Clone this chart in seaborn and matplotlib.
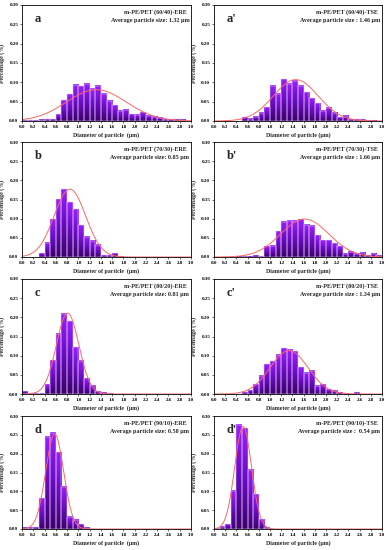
import numpy as np
import pandas as pd
import matplotlib
matplotlib.use("Agg")
import matplotlib.pyplot as plt
import seaborn as sns
from matplotlib.colors import LinearSegmentedColormap

sns.set_theme(style="ticks")
plt.rcParams['font.family'] = ['Liberation Serif', 'DejaVu Serif']
plt.rcParams['font.weight'] = 'bold'

# bin centres (μm), bin width 0.1
diameters = [0.05, 0.15, 0.25, 0.35, 0.45, 0.55, 0.65, 0.75, 0.85, 0.95,
             1.05, 1.15, 1.25, 1.35, 1.45, 1.55, 1.65, 1.75, 1.85, 1.95,
             2.05, 2.15, 2.25, 2.35, 2.45, 2.55, 2.65, 2.75, 2.85, 2.95]
bin_edges = [0.0, 0.1, 0.2, 0.3, 0.4, 0.5, 0.6, 0.7, 0.8, 0.9, 1.0,
             1.1, 1.2, 1.3, 1.4, 1.5, 1.6, 1.7, 1.8, 1.9, 2.0,
             2.1, 2.2, 2.3, 2.4, 2.5, 2.6, 2.7, 2.8, 2.9, 3.0]

pct_a = [0.002, 0.002, 0.002, 0.003, 0.004, 0.004, 0.018, 0.054, 0.069, 0.094,
         0.090, 0.096, 0.084, 0.091, 0.071, 0.052, 0.041, 0.026, 0.029, 0.017,
         0.016, 0.022, 0.014, 0.011, 0.008, 0.005, 0.004, 0.004, 0.003, 0.0]
pct_a2 = [0.0, 0.0, 0.0, 0.0, 0.0, 0.010, 0.006, 0.011, 0.021, 0.035,
          0.091, 0.070, 0.108, 0.096, 0.104, 0.091, 0.075, 0.059, 0.046, 0.026,
          0.034, 0.021, 0.010, 0.013, 0.004, 0.004, 0.004, 0.002, 0.001, 0.0]
pct_b = [0.0, 0.0, 0.0, 0.010, 0.037, 0.098, 0.151, 0.177, 0.143, 0.125,
         0.083, 0.053, 0.043, 0.032, 0.004, 0.004, 0.010, 0.002, 0.0, 0.0,
         0.0, 0.0, 0.0, 0.0, 0.0, 0.0, 0.0, 0.0, 0.0, 0.0]
pct_b2 = [0.0, 0.0, 0.0, 0.0, 0.001, 0.002, 0.001, 0.004, 0.002, 0.028,
          0.030, 0.067, 0.092, 0.094, 0.094, 0.098, 0.084, 0.081, 0.057, 0.044,
          0.044, 0.036, 0.028, 0.009, 0.014, 0.009, 0.011, 0.004, 0.009, 0.004]
pct_c = [0.007, 0.002, 0.002, 0.002, 0.026, 0.088, 0.157, 0.210, 0.190, 0.122,
         0.087, 0.041, 0.023, 0.007, 0.005, 0.002, 0.0, 0.0, 0.0, 0.0,
         0.0, 0.0, 0.0, 0.0, 0.0, 0.0, 0.0, 0.0, 0.0, 0.0]
pct_c2 = [0.0, 0.0, 0.0, 0.0, 0.0, 0.005, 0.010, 0.026, 0.048, 0.078,
          0.086, 0.103, 0.120, 0.116, 0.111, 0.070, 0.056, 0.061, 0.021, 0.026,
          0.012, 0.010, 0.005, 0.002, 0.0, 0.004, 0.0, 0.0, 0.0, 0.0]
pct_d = [0.003, 0.003, 0.004, 0.081, 0.245, 0.256, 0.204, 0.112, 0.033, 0.024,
         0.013, 0.003, 0.0, 0.0, 0.0, 0.0, 0.0, 0.0, 0.0, 0.0,
         0.0, 0.0, 0.0, 0.0, 0.0, 0.0, 0.0, 0.0, 0.0, 0.0]
pct_d2 = [0.002, 0.006, 0.013, 0.101, 0.277, 0.267, 0.157, 0.092, 0.026, 0.003,
          0.0, 0.0, 0.0, 0.0, 0.0, 0.0, 0.0, 0.0, 0.0, 0.0,
          0.0, 0.0, 0.0, 0.0, 0.0, 0.0, 0.0, 0.0, 0.0, 0.0]

# Gaussian fit parameters: (mean, sigma, peak)
fit_a = (1.32, 0.53, 0.081)
fit_a2 = (1.46, 0.40, 0.107)
fit_b = (0.85, 0.28, 0.177)
fit_b2 = (1.62, 0.43, 0.099)
fit_c = (0.81, 0.20, 0.211)
fit_c2 = (1.34, 0.34, 0.113)
fit_d = (0.58, 0.16, 0.252)
fit_d2 = (0.52, 0.15, 0.272)

letters = ["a", "a'", "b", "b'", "c", "c'", "d", "d'"]
samples = ["m-PE/PET (60/40)-ERE", "m-PE/PET (60/40)-TSE",
           "m-PE/PET (70/30)-ERE", "m-PE/PET (70/30)-TSE",
           "m-PE/PET (80/20)-ERE", "m-PE/PET (80/20)-TSE",
           "m-PE/PET (90/10)-ERE", "m-PE/PET (90/10)-TSE"]
avg_labels = ["Average particle size: 1.32 \u03bcm", "Average particle size : 1.46 \u03bcm",
              "Average particle size: 0.85 \u03bcm", "Average particle size : 1.66 \u03bcm",
              "Average particle size: 0.81 \u03bcm", "Average particle size : 1.34 \u03bcm",
              "Average particle size: 0.58 \u03bcm", "Average particle size :  0.54 \u03bcm"]
xlabels = ["Diameter of particle  (\u03bcm)", "Diameter of particle (\u03bcm)"] * 4
x_ticks = [0.0, 0.2, 0.4, 0.6, 0.8, 1.0, 1.2, 1.4, 1.6, 1.8, 2.0, 2.2, 2.4, 2.6, 2.8, 3.0]
y_ticks = [0.00, 0.05, 0.10, 0.15, 0.20, 0.25, 0.30]

all_pct = [pct_a, pct_a2, pct_b, pct_b2, pct_c, pct_c2, pct_d, pct_d2]
all_fit = [fit_a, fit_a2, fit_b, fit_b2, fit_c, fit_c2, fit_d, fit_d2]

W, H = 387, 550
fig = plt.figure(figsize=(W / 100, H / 100), dpi=100)
fig.patch.set_facecolor("white")

col_left = [22, 214]
col_width = [169, 168]
row_top = [5, 142, 279, 416]
row_h = [116, 115, 115, 113]

cmap = LinearSegmentedColormap.from_list("purp", ["#3E006E", "#6A0BC0", "#9A1FFF"])
grad = np.linspace(0, 1, 64).reshape(-1, 1)

for i in range(8):
    r, c = divmod(i, 2)
    l = col_left[c] / W
    b = 1 - (row_top[r] + row_h[r]) / H
    ax = fig.add_axes([l, b, col_width[c] / W, row_h[r] / H])
    df = pd.DataFrame({"d": diameters, "p": all_pct[i]})
    sns.histplot(data=df, x="d", weights="p", bins=bin_edges, ax=ax,
                 stat="count", edgecolor="#EBD8FF", linewidth=0.35, alpha=1)
    for p in list(ax.patches):
        h = p.get_height()
        if h <= 0:
            p.remove()
            continue
        x0, w = p.get_x(), p.get_width()
        ax.imshow(grad, extent=[x0, x0 + w, 0, h], origin="lower", cmap=cmap,
                  aspect="auto", zorder=0.9, interpolation="bilinear")
        p.set_facecolor("none")
        p.set_zorder(1)
    mu, sd, pk = all_fit[i]
    xs = np.linspace(0.0, 3.0, 400)
    ys = pk * np.exp(-(xs - mu) ** 2 / (2 * sd ** 2))
    ax.plot(xs, ys, color="#FF6666", lw=0.7, zorder=2)

    ax.set_xlim(0, 3.0)
    ax.set_ylim(0, 0.30)
    ax.set_aspect("auto")
    ax.set_xticks(x_ticks)
    ax.set_xticklabels([f"{t:.1f}" for t in x_ticks])
    ax.set_yticks(y_ticks)
    ax.set_yticklabels([f"{t:.2f}" for t in y_ticks])
    ax.tick_params(axis="both", labelsize=3.6, length=1.5, width=0.4, pad=1.2,
                   direction="out", colors="black")
    for s in ax.spines.values():
        s.set_visible(True)
        s.set_linewidth(0.6)
        s.set_color("black")
    ax.set_xlabel(xlabels[i], fontsize=4.2, fontweight="bold", labelpad=2.5)
    ax.set_ylabel("Percentage (%)", fontsize=4.2, fontweight="bold", labelpad=3)
    ax.text(0.075, 0.875, letters[i], transform=ax.transAxes, fontsize=9,
            fontweight="bold", ha="left", va="center")
    ax.text(0.975, 0.935, samples[i], transform=ax.transAxes, fontsize=4.4,
            fontweight="bold", ha="right", va="center")
    ax.text(0.99, 0.865, avg_labels[i], transform=ax.transAxes, fontsize=4.4,
            fontweight="bold", ha="right", va="center")
    ax.set_facecolor("white")

fig.savefig("out.png", dpi=100, facecolor="white")
